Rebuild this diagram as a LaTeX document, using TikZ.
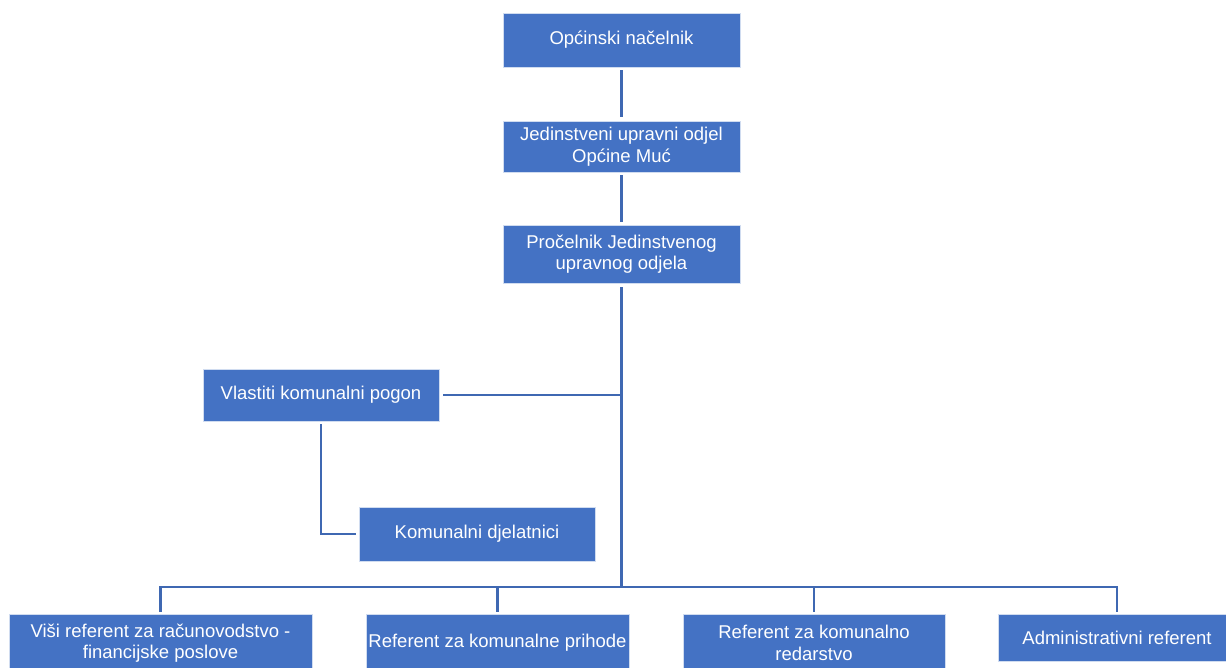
\documentclass[tikz,border=0pt]{standalone}
\usepackage{fontspec}
\setmainfont{Liberation Sans}
\definecolor{boxblue}{HTML}{4472C4}
\definecolor{linec}{HTML}{3F68B2}
\begin{document}
\begin{tikzpicture}[x=1pt,y=-1pt,
 box/.style={rectangle, fill=boxblue, draw=white!75!boxblue, line width=0.6pt, text=white, align=center, inner sep=0pt, font=\fontsize{18.5}{21.5}\selectfont},
 conn/.style={draw=linec, line width=2.8pt}]
\useasboundingbox (0,0) rectangle (1226,668);
\fill[white] (0,0) rectangle (1226,668);
\node[box, minimum width=237pt, minimum height=54pt] (a) at (621.5,40) {Općinski načelnik};
\node[box, minimum width=237pt, minimum height=51pt] (b) at (621.5,146.5) {Jedinstveni upravni odjel\\Općine Muć};
\node[box, minimum width=237pt, minimum height=58pt] (c) at (621.5,254) {Pročelnik Jedinstvenog\\upravnog odjela};
\node[box, minimum width=236pt, minimum height=52pt] (v) at (321,395) {Vlastiti komunalni pogon};
\node[box, minimum width=236pt, minimum height=54pt] (k) at (477,534) {Komunalni djelatnici};
\node[box, minimum width=303pt, minimum height=58pt] (d1) at (160.5,643) {Viši referent za računovodstvo -\\financijske poslove};
\node[box, minimum width=263pt, minimum height=58pt] (d2) at (497.5,643) {Referent za komunalne prihode};
\node[box, minimum width=262pt, minimum height=58pt] (d3) at (814,643) {Referent za komunalno\\redarstvo};
\node[box, minimum width=238pt, minimum height=47pt] (d4) at (1117,637.5) {Administrativni referent};
\coordinate (bar) at (0,587);
\draw[conn, shorten <=3pt, shorten >=4pt] (a.south) -- (b.north);
\draw[conn, shorten <=3pt, shorten >=3pt] (b.south) -- (c.north);
\draw[conn, shorten <=4pt] (c.south) -- (c.south |- bar);
\draw[conn, shorten >=4pt] (c.south |- v.east) -- (v.east);
\draw[conn, shorten <=3pt, shorten >=3pt] (v.south) |- (k.west);
\draw[conn, shorten >=2pt] (c.south |- bar) -| (d1.north);
\draw[conn, shorten >=2pt] (c.south |- bar) -| (d2.north);
\draw[conn, shorten >=2pt] (c.south |- bar) -| (d3.north);
\draw[conn, shorten >=2pt] (c.south |- bar) -| (d4.north);
\end{tikzpicture}
\end{document}
